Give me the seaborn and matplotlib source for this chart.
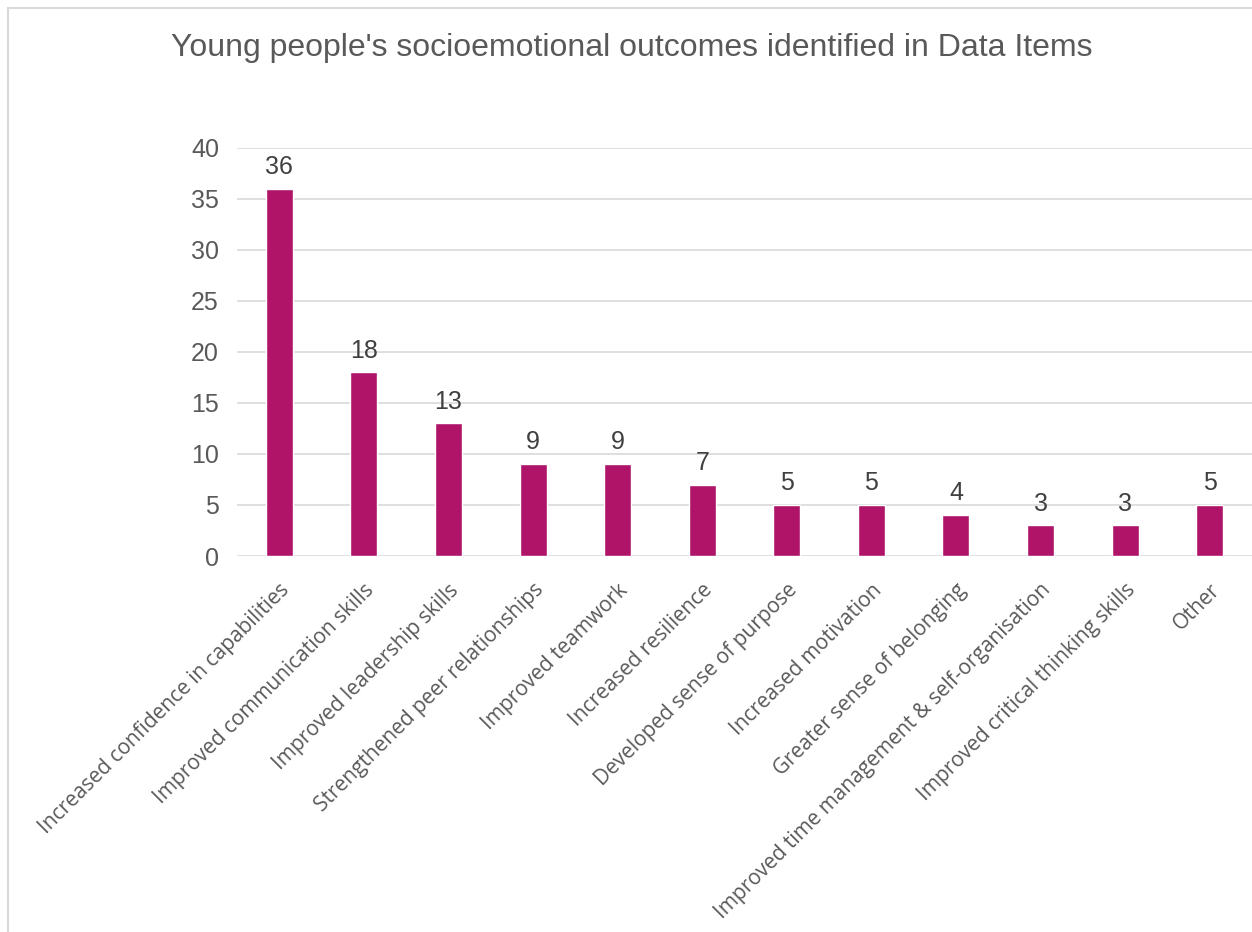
import seaborn as sns
import matplotlib.pyplot as plt
import matplotlib.patches as mpatches
import pandas as pd

outcomes = ["Increased confidence in capabilities", "Improved communication skills",
            "Improved leadership skills", "Strengthened peer relationships",
            "Improved teamwork", "Increased resilience", "Developed sense of purpose",
            "Increased motivation", "Greater sense of belonging",
            "Improved time management & self-organisation",
            "Improved critical thinking skills", "Other"]
counts = [36, 18, 13, 9, 9, 7, 5, 5, 4, 3, 3, 5]
yticks = [0, 5, 10, 15, 20, 25, 30, 35, 40]

df = pd.DataFrame({"outcome": outcomes, "count": counts})

sns.set_style("white")
plt.rcParams['font.family'] = ['Liberation Sans', 'DejaVu Sans']

fig = plt.figure(figsize=(12.52, 9.32), dpi=100)
ax = fig.add_axes([237/1252, 1 - 556/932, 1 - 237/1252, (556 - 148)/932])

sns.barplot(data=df, x="outcome", y="count", color="#AF1469", width=0.32,
            saturation=1, ax=ax, zorder=3)

ax.set_ylim(0, 40)
ax.set_yticks(yticks)
ax.set_xlim(-0.5, len(outcomes) - 0.5)
ax.yaxis.grid(True, color="#D9D9D9", linewidth=1.2, zorder=0)
ax.xaxis.grid(False)
for s in ax.spines.values():
    s.set_visible(False)
ax.set_xlabel("")
ax.set_ylabel("")
ax.tick_params(axis="y", length=0, pad=13, labelsize=18, labelcolor="#595959")
ax.tick_params(axis="x", length=0, pad=17, labelcolor="#595959")
ax.set_xticks(range(len(outcomes)))
ax.set_xticklabels(outcomes, rotation=45, ha="right", rotation_mode="anchor",
                   fontsize=15, family=["Open Sans", "DejaVu Sans"])

for i, v in enumerate(counts):
    ax.annotate(str(v), (i, v), xytext=(0, 7), textcoords="offset points",
                ha="center", va="bottom", fontsize=18, color="#404040")

fig.text(632/1252, 1 - 48/932, "Young people's socioemotional outcomes identified in Data Items",
         ha="center", va="center", fontsize=23, color="#595959")

# chart area border (cut off at right and bottom)
fig.patches.append(mpatches.Rectangle((8/1252, -0.1), 1.2, 1 - 8/932 + 0.1,
                                      transform=fig.transFigure, fill=False,
                                      edgecolor="#D9D9D9", linewidth=1.5))

fig.savefig("out.png", dpi=100)
